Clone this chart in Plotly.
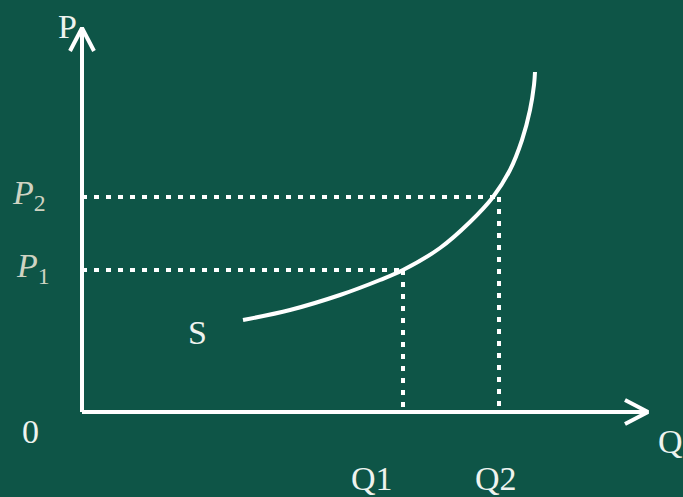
import plotly.graph_objects as go

# Supply curve S (quantity, price) in chart units
s_quantity = [161, 208, 258, 298, 321, 358, 388, 411, 428, 440, 448, 452, 453]
s_price = [92, 102, 117, 132, 142, 164, 190, 215, 242, 272, 302, 327, 340]

# Two price / quantity pairs
price_levels = [142, 215]
quantity_levels = [321, 417]
price_labels = ["<i>P</i><sub>1</sub>", "<i>P</i><sub>2</sub>"]
quantity_labels = ["Q1", "Q2"]

# axis extents
q_max = 566
p_max = 384

BG = "#0e5547"
WHITE = "#ffffff"
TXT = "#eef3ef"
PTXT = "#cfd3c2"
FONT = "Liberation Serif"

fig = go.Figure()

# dotted guides
for p, q in zip(price_levels, quantity_levels):
    fig.add_trace(go.Scatter(x=[0, q], y=[p, p], mode="lines",
                             line=dict(color=WHITE, width=4, dash="5px,7px"),
                             hoverinfo="skip", showlegend=False))
    fig.add_trace(go.Scatter(x=[q, q], y=[p, 0], mode="lines",
                             line=dict(color=WHITE, width=4, dash="5px,7px"),
                             hoverinfo="skip", showlegend=False))

# axes
fig.add_trace(go.Scatter(x=[0, q_max], y=[0, 0], mode="lines",
                         line=dict(color=WHITE, width=4), showlegend=False, hoverinfo="skip"))
fig.add_trace(go.Scatter(x=[0, 0], y=[0, p_max], mode="lines",
                         line=dict(color=WHITE, width=4), showlegend=False, hoverinfo="skip"))
# arrow heads (chevrons)
fig.add_trace(go.Scatter(x=[q_max - 23, q_max, q_max - 23], y=[12, 0, -12], mode="lines",
                         line=dict(color=WHITE, width=4), showlegend=False, hoverinfo="skip"))
fig.add_trace(go.Scatter(x=[-12, 0, 12], y=[p_max - 23, p_max, p_max - 23], mode="lines",
                         line=dict(color=WHITE, width=4), showlegend=False, hoverinfo="skip"))

# supply curve
fig.add_trace(go.Scatter(x=s_quantity, y=s_price, mode="lines",
                         line=dict(color=WHITE, width=4, shape="spline"),
                         showlegend=False, hoverinfo="skip"))

annotations = []
def txt(x, y, t, color=TXT, size=34):
    annotations.append(dict(x=x, y=y, text=t, showarrow=False, xref="x", yref="y",
                            font=dict(family=FONT, size=size, color=color),
                            xanchor="center", yanchor="middle"))

txt(-15, 386, "P")
txt(588, -29, "Q")
txt(-52, -19, "0")
txt(115, 80, "S")
for lab, q, dx in zip(quantity_labels, quantity_levels, [-31, -3]):
    txt(q + dx, -66, lab)
for lab, p, dx in zip(price_labels, price_levels, [-49, -53]):
    txt(dx, p + 2, lab, color=PTXT)

fig.update_layout(
    width=683, height=497, margin=dict(l=0, r=0, t=0, b=0),
    paper_bgcolor=BG, plot_bgcolor=BG,
    xaxis=dict(range=[-82, 601], visible=False, fixedrange=True),
    yaxis=dict(range=[-85, 412], visible=False, fixedrange=True),
    annotations=annotations,
)

fig.write_html("out.html", config={"displayModeBar": False},
               post_script="document.body.style.margin='0';document.body.style.background='%s';" % BG)
